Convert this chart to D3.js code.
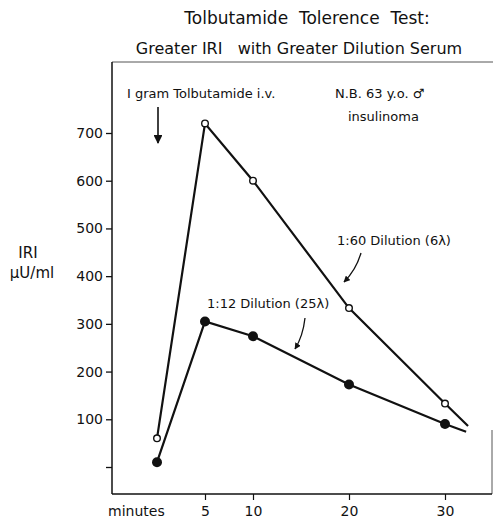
<!DOCTYPE html>
<html>
<head>
<meta charset="utf-8">
<script src="https://cdn.jsdelivr.net/npm/d3@7"></script>
<style>
  body { margin: 0; background: #fff; }
  svg { display: block; }
  text { font-family: "DejaVu Sans", sans-serif; fill: #111; white-space: pre; }
</style>
</head>
<body>
<svg id="chart" width="493" height="523"></svg>
<script>
// ---- data ----
const minutes = [0, 5, 10, 20, 30];
const dilution60 = [60, 720, 600, 333, 133];   // 1:60 Dilution (6λ), open circles
const dilution12 = [10, 305, 274, 173, 90];    // 1:12 Dilution (25λ), filled circles
const lineEndMinute = [32.4, 32.2];             // where each drawn line stops past the last point
const lineEndValue = [86, 74];
const yTicks = [0, 100, 200, 300, 400, 500, 600, 700];
const yTickLabels = ["", "100", "200", "300", "400", "500", "600", "700"];
const xTicks = [5, 10, 20, 30];
const xTickLabels = ["5", "10", "20", "30"];

const svg = d3.select("#chart");
const x = d3.scaleLinear().domain([0, 30]).range([157, 445]);
const y = d3.scaleLinear().domain([0, 700]).range([467, 133]);
const axisX = 112, axisBottom = 494, frameTop = 62, frameRight = 492;

// frame
svg.append("line").attr("x1", axisX).attr("x2", 493).attr("y1", frameTop).attr("y2", frameTop)
  .attr("stroke", "#555").attr("stroke-width", 1);
svg.append("line").attr("x1", frameRight).attr("x2", frameRight).attr("y1", 430).attr("y2", axisBottom)
  .attr("stroke", "#555").attr("stroke-width", 1);

// titles
svg.append("text").attr("x", 307).attr("y", 24).attr("text-anchor", "middle")
  .attr("font-size", 17).text("Tolbutamide  Tolerence  Test:");
svg.append("text").attr("x", 299).attr("y", 54).attr("text-anchor", "middle")
  .attr("font-size", 16).text("Greater IRI   with Greater Dilution Serum");

// y axis
const yAxis = d3.axisLeft(y).tickValues(yTicks).tickSize(6).tickSizeOuter(0)
  .tickFormat((d, i) => yTickLabels[i]);
const gy = svg.append("g").attr("transform", `translate(${axisX},0)`).call(yAxis);
gy.select(".domain").remove();
gy.selectAll(".tick line").attr("stroke", "#111").attr("stroke-width", 1.3);
gy.selectAll(".tick text").attr("font-size", 14).attr("font-family", "DejaVu Sans").attr("fill", "#111").attr("x", -9);
svg.append("line").attr("x1", axisX).attr("x2", axisX).attr("y1", frameTop).attr("y2", axisBottom)
  .attr("stroke", "#111").attr("stroke-width", 1.5);

// x axis
const xAxis = d3.axisBottom(x).tickValues(xTicks).tickSize(6).tickSizeOuter(0)
  .tickFormat((d, i) => xTickLabels[i]);
const gx = svg.append("g").attr("transform", `translate(0,${axisBottom})`).call(xAxis);
gx.select(".domain").remove();
gx.selectAll(".tick line").attr("stroke", "#111").attr("stroke-width", 1.2);
gx.selectAll(".tick text").attr("font-size", 14).attr("font-family", "DejaVu Sans").attr("fill", "#111").attr("y", 12);
svg.append("line").attr("x1", axisX).attr("x2", frameRight).attr("y1", axisBottom).attr("y2", axisBottom)
  .attr("stroke", "#111").attr("stroke-width", 1.5);
svg.append("text").attr("x", 108).attr("y", 516).attr("font-size", 14).text("minutes");

// y label
svg.append("text").attr("x", 28).attr("y", 258).attr("text-anchor", "middle").attr("font-size", 15).text("IRI");
svg.append("text").attr("x", 32).attr("y", 278).attr("text-anchor", "middle").attr("font-size", 15).text("µU/ml");

// lines
const line = d3.line().x(d => x(d[0])).y(d => y(d[1]));
const pts60 = minutes.map((m, i) => [m, dilution60[i]]);
const pts12 = minutes.map((m, i) => [m, dilution12[i]]);
svg.append("path").attr("d", line(pts60.concat([[lineEndMinute[0], lineEndValue[0]]])))
  .attr("fill", "none").attr("stroke", "#111").attr("stroke-width", 2.2);
svg.append("path").attr("d", line(pts12.concat([[lineEndMinute[1], lineEndValue[1]]])))
  .attr("fill", "none").attr("stroke", "#111").attr("stroke-width", 2.2);

svg.selectAll("circle.open").data(pts60).enter().append("circle").attr("class", "open")
  .attr("cx", d => x(d[0])).attr("cy", d => y(d[1])).attr("r", 3.3)
  .attr("fill", "#fff").attr("stroke", "#111").attr("stroke-width", 1.4);
svg.selectAll("circle.filled").data(pts12).enter().append("circle").attr("class", "filled")
  .attr("cx", d => x(d[0])).attr("cy", d => y(d[1])).attr("r", 5)
  .attr("fill", "#111");

// arrowhead markers
const defs = svg.append("defs");
defs.append("marker").attr("id", "ah").attr("viewBox", "0 0 10 10").attr("refX", 9).attr("refY", 5)
  .attr("markerWidth", 5).attr("markerHeight", 5).attr("orient", "auto-start-reverse")
  .attr("markerUnits", "strokeWidth")
  .append("path").attr("d", "M0,0 L10,5 L0,10 z").attr("fill", "#111");
defs.append("marker").attr("id", "ahBig").attr("viewBox", "0 0 10 10").attr("refX", 9).attr("refY", 5)
  .attr("markerWidth", 6.5).attr("markerHeight", 5.5).attr("orient", "auto-start-reverse")
  .attr("markerUnits", "strokeWidth")
  .append("path").attr("d", "M0,0 L10,5 L0,10 z").attr("fill", "#111");

// annotations
svg.append("text").attr("x", 127).attr("y", 98).attr("font-size", 13).text("I gram Tolbutamide i.v.");
svg.append("line").attr("x1", 158).attr("x2", 158).attr("y1", 107).attr("y2", 143)
  .attr("stroke", "#111").attr("stroke-width", 1.6).attr("marker-end", "url(#ahBig)");

svg.append("text").attr("x", 335).attr("y", 98).attr("font-size", 13).text("N.B. 63 y.o. ♂");
svg.append("text").attr("x", 348).attr("y", 121).attr("font-size", 13).text("insulinoma");

svg.append("text").attr("x", 337).attr("y", 245).attr("font-size", 13).text("1:60 Dilution (6λ)");
svg.append("path").attr("d", "M361,253 Q356,270 344,282")
  .attr("fill", "none").attr("stroke", "#111").attr("stroke-width", 1.3).attr("marker-end", "url(#ah)");

svg.append("text").attr("x", 207).attr("y", 308).attr("font-size", 13).text("1:12 Dilution (25λ)");
svg.append("path").attr("d", "M305,318 Q303,336 295,349")
  .attr("fill", "none").attr("stroke", "#111").attr("stroke-width", 1.3).attr("marker-end", "url(#ah)");
</script>
</body>
</html>
